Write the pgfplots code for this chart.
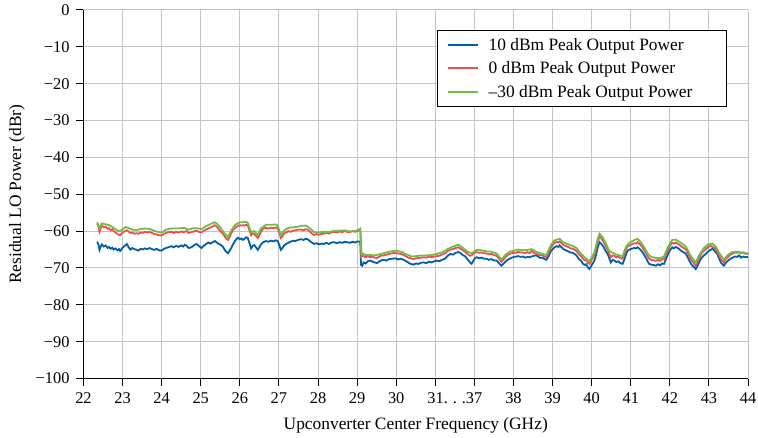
\documentclass[border=0pt]{standalone}
\usepackage{fontspec}
\setmainfont{Liberation Serif}
\usepackage{pgfplots}
\usepackage{pgfplotstable}
\pgfplotsset{compat=1.18}
\definecolor{cblue}{HTML}{005EAA}
\definecolor{cred}{HTML}{F04E4E}
\definecolor{cgreen}{HTML}{6EBE46}
\definecolor{cgrid}{HTML}{C4C4C4}
% x is the position on the broken axis: 22..30 -> 0..8, 31 -> 9, 37 -> 10, 38..44 -> 11..17
\pgfplotstableread{
x y
0.35 -62.9
0.38 -63.5
0.41 -65.1
0.45 -64.0
0.47 -63.6
0.52 -64.2
0.57 -63.9
0.62 -64.6
0.65 -64.3
0.70 -64.8
0.74 -64.5
0.77 -65.0
0.82 -64.7
0.87 -65.2
0.91 -64.9
0.94 -65.4
0.98 -64.8
1.03 -64.2
1.08 -63.8
1.11 -63.5
1.15 -64.3
1.20 -65.0
1.25 -64.6
1.30 -64.9
1.36 -65.1
1.41 -65.3
1.46 -64.8
1.52 -65.0
1.57 -64.7
1.63 -64.9
1.69 -64.6
1.75 -64.9
1.81 -65.1
1.87 -64.8
1.93 -65.2
2.00 -65.3
2.05 -64.9
2.11 -64.6
2.17 -64.4
2.25 -64.1
2.31 -64.4
2.37 -64.0
2.43 -64.3
2.50 -63.9
2.55 -64.2
2.59 -63.7
2.64 -64.0
2.69 -64.6
2.76 -64.4
2.82 -63.9
2.89 -63.5
2.95 -64.0
3.02 -64.6
3.07 -64.0
3.13 -63.6
3.19 -63.1
3.25 -63.4
3.31 -63.0
3.36 -62.7
3.42 -63.2
3.47 -63.5
3.52 -63.8
3.57 -64.3
3.62 -65.2
3.67 -65.8
3.70 -66.0
3.74 -65.3
3.78 -64.6
3.83 -63.5
3.88 -62.6
3.95 -61.8
4.00 -62.2
4.04 -62.0
4.08 -62.4
4.12 -62.1
4.16 -61.7
4.20 -61.8
4.24 -63.0
4.29 -64.7
4.33 -64.0
4.37 -63.8
4.42 -64.5
4.46 -65.1
4.50 -64.4
4.54 -63.6
4.60 -63.0
4.67 -62.7
4.73 -62.9
4.80 -62.6
4.86 -62.8
4.92 -62.5
4.97 -62.7
5.01 -63.8
5.05 -65.1
5.09 -64.6
5.14 -63.8
5.20 -63.4
5.25 -63.1
5.30 -62.9
5.36 -62.6
5.42 -62.7
5.49 -62.4
5.56 -62.2
5.63 -62.4
5.68 -62.1
5.73 -62.2
5.77 -62.5
5.81 -62.9
5.86 -63.2
5.90 -63.5
5.96 -63.3
6.02 -63.6
6.08 -63.4
6.15 -63.5
6.21 -63.2
6.28 -63.5
6.34 -63.1
6.41 -63.0
6.48 -63.3
6.55 -63.0
6.62 -63.2
6.68 -62.9
6.74 -63.0
6.81 -63.2
6.88 -62.9
6.95 -63.1
7.02 -62.8
7.08 -62.9
7.10 -69.2
7.13 -69.4
7.17 -68.5
7.22 -68.8
7.27 -68.2
7.34 -68.0
7.39 -68.3
7.45 -68.5
7.51 -68.7
7.57 -68.2
7.63 -67.9
7.68 -67.8
7.75 -68.0
7.82 -67.6
7.90 -67.5
7.98 -67.4
8.05 -67.7
8.12 -67.5
8.19 -67.8
8.26 -68.2
8.33 -68.7
8.40 -69.0
8.44 -69.1
8.50 -68.8
8.57 -68.9
8.63 -68.6
8.70 -68.5
8.77 -68.7
8.84 -68.3
8.91 -68.5
8.97 -68.2
9.04 -68.0
9.10 -68.2
9.17 -67.8
9.25 -67.5
9.31 -66.8
9.38 -66.2
9.45 -66.4
9.52 -65.9
9.59 -65.7
9.65 -66.0
9.70 -66.5
9.76 -66.8
9.82 -67.6
9.88 -68.4
9.93 -68.9
9.98 -67.9
10.02 -67.3
10.06 -67.1
10.12 -67.4
10.18 -67.2
10.25 -67.5
10.31 -67.5
10.37 -67.8
10.44 -67.6
10.50 -68.0
10.57 -68.0
10.62 -68.6
10.66 -69.1
10.69 -69.4
10.74 -68.9
10.80 -68.2
10.85 -67.8
10.90 -67.5
10.96 -67.2
11.02 -67.0
11.07 -66.9
11.12 -66.8
11.18 -67.0
11.24 -66.9
11.30 -67.2
11.36 -67.0
11.41 -67.1
11.46 -66.9
11.52 -66.7
11.58 -66.6
11.63 -66.9
11.68 -67.3
11.74 -67.2
11.79 -67.6
11.84 -67.8
11.90 -66.8
11.95 -65.6
12.00 -64.9
12.05 -64.4
12.10 -64.1
12.15 -64.3
12.18 -63.9
12.23 -64.4
12.28 -64.9
12.35 -65.3
12.40 -65.5
12.45 -65.8
12.51 -65.9
12.56 -66.2
12.61 -66.6
12.66 -67.4
12.70 -67.9
12.73 -68.0
12.77 -68.8
12.82 -69.2
12.86 -69.0
12.90 -69.8
12.94 -70.3
12.98 -69.6
13.03 -68.7
13.07 -68.0
13.11 -66.5
13.15 -64.6
13.20 -63.0
13.24 -63.4
13.28 -63.9
13.33 -64.8
13.37 -65.6
13.41 -66.2
13.45 -67.4
13.49 -68.5
13.54 -67.8
13.58 -68.0
13.63 -68.4
13.68 -68.2
13.73 -68.7
13.79 -68.9
13.84 -67.6
13.88 -66.2
13.92 -65.3
13.97 -65.0
14.02 -64.8
14.08 -64.6
14.13 -64.7
14.17 -64.4
14.22 -64.8
14.26 -65.2
14.30 -65.7
14.35 -66.6
14.40 -67.5
14.44 -68.4
14.47 -68.9
14.52 -69.1
14.58 -69.2
14.64 -69.4
14.70 -69.0
14.75 -69.3
14.80 -68.8
14.85 -68.9
14.90 -67.6
14.95 -66.3
15.00 -65.2
15.06 -64.4
15.10 -64.7
15.15 -64.3
15.20 -64.6
15.23 -64.8
15.28 -65.3
15.33 -65.6
15.37 -65.9
15.41 -66.2
15.46 -67.2
15.51 -68.3
15.56 -69.2
15.62 -69.8
15.66 -70.3
15.70 -69.6
15.75 -68.4
15.80 -67.4
15.87 -66.6
15.92 -66.2
15.98 -65.5
16.04 -65.1
16.09 -64.8
16.14 -65.3
16.18 -65.8
16.21 -66.2
16.26 -67.4
16.31 -68.6
16.36 -69.2
16.38 -69.4
16.43 -68.6
16.49 -68.0
16.55 -67.5
16.61 -67.2
16.66 -66.9
16.72 -67.0
16.77 -66.6
16.82 -67.2
16.88 -66.9
16.94 -67.1
17.00 -67.0
}\tenDBm
\pgfplotstableread{
x y
0.35 -58.0
0.38 -58.6
0.41 -60.2
0.45 -59.0
0.47 -58.5
0.52 -59.0
0.57 -58.8
0.62 -59.4
0.65 -59.2
0.70 -59.8
0.74 -59.5
0.77 -60.0
0.82 -60.4
0.87 -60.8
0.91 -61.0
0.94 -61.1
0.98 -60.6
1.03 -60.2
1.08 -59.9
1.11 -59.8
1.15 -60.1
1.20 -60.5
1.25 -60.4
1.30 -60.7
1.36 -60.6
1.41 -60.7
1.46 -60.4
1.52 -60.5
1.57 -60.2
1.63 -60.4
1.69 -60.2
1.75 -60.5
1.81 -60.8
1.87 -60.9
1.93 -61.1
2.00 -61.2
2.05 -60.8
2.11 -60.5
2.17 -60.3
2.25 -60.2
2.31 -60.5
2.37 -60.2
2.43 -60.4
2.50 -60.1
2.55 -60.3
2.59 -60.2
2.64 -60.0
2.69 -60.5
2.76 -60.3
2.82 -60.1
2.89 -59.9
2.95 -60.2
3.02 -60.4
3.07 -60.0
3.13 -59.6
3.19 -59.3
3.25 -59.0
3.31 -58.7
3.36 -58.4
3.42 -58.9
3.47 -59.6
3.52 -60.2
3.57 -60.8
3.62 -61.6
3.67 -62.2
3.70 -62.4
3.74 -61.6
3.78 -60.6
3.83 -59.6
3.88 -59.1
3.95 -58.6
4.00 -58.4
4.04 -58.5
4.08 -58.4
4.12 -58.5
4.16 -58.3
4.20 -58.4
4.24 -59.6
4.29 -61.1
4.33 -60.6
4.37 -60.8
4.42 -61.4
4.46 -61.9
4.50 -61.2
4.54 -60.2
4.60 -59.3
4.67 -59.1
4.73 -59.3
4.80 -59.1
4.86 -59.2
4.92 -59.0
4.97 -59.3
5.01 -60.4
5.05 -61.9
5.09 -61.4
5.14 -60.6
5.20 -60.3
5.25 -60.0
5.30 -60.2
5.36 -59.9
5.42 -59.8
5.49 -59.6
5.56 -59.6
5.63 -59.8
5.68 -59.5
5.73 -59.6
5.77 -59.9
5.81 -60.3
5.86 -60.8
5.90 -61.1
5.96 -60.8
6.02 -61.0
6.08 -60.8
6.15 -60.7
6.21 -60.5
6.28 -60.7
6.34 -60.4
6.41 -60.2
6.48 -60.4
6.55 -60.1
6.62 -60.3
6.68 -60.0
6.74 -60.2
6.81 -60.3
6.88 -60.0
6.95 -60.2
7.02 -59.9
7.08 -59.4
7.11 -66.9
7.13 -66.6
7.17 -66.9
7.22 -67.1
7.27 -66.8
7.34 -67.1
7.39 -66.9
7.45 -67.2
7.51 -67.3
7.57 -66.9
7.63 -66.6
7.68 -66.6
7.75 -66.4
7.82 -66.2
7.90 -66.0
7.98 -65.9
8.05 -66.1
8.12 -66.2
8.19 -66.5
8.26 -66.9
8.33 -67.3
8.40 -67.5
8.44 -67.6
8.50 -67.4
8.57 -67.3
8.63 -67.2
8.70 -67.1
8.77 -67.2
8.84 -66.9
8.91 -67.1
8.97 -66.9
9.04 -66.8
9.10 -66.7
9.17 -66.4
9.25 -66.0
9.31 -65.5
9.38 -65.0
9.45 -64.9
9.52 -64.6
9.59 -64.4
9.65 -64.8
9.70 -65.2
9.76 -65.6
9.82 -66.2
9.88 -66.7
9.93 -66.6
9.98 -66.0
10.02 -65.8
10.06 -65.7
10.12 -65.9
10.18 -65.8
10.25 -66.0
10.31 -66.1
10.37 -66.3
10.44 -66.2
10.50 -66.5
10.57 -66.7
10.62 -67.3
10.66 -67.9
10.69 -68.3
10.74 -67.7
10.80 -67.0
10.85 -66.5
10.90 -66.2
10.96 -66.0
11.02 -65.9
11.07 -65.9
11.12 -65.6
11.18 -65.8
11.24 -65.8
11.30 -66.0
11.36 -65.7
11.41 -66.0
11.46 -65.4
11.52 -65.9
11.58 -66.2
11.63 -66.4
11.68 -66.6
11.74 -66.5
11.79 -66.9
11.84 -67.1
11.90 -65.9
11.95 -64.6
12.00 -63.8
12.05 -63.2
12.10 -62.9
12.15 -63.1
12.18 -62.8
12.23 -63.3
12.28 -63.8
12.35 -64.1
12.40 -64.3
12.45 -64.6
12.51 -64.8
12.56 -65.0
12.61 -65.4
12.66 -66.1
12.70 -66.6
12.73 -66.8
12.77 -67.4
12.82 -67.9
12.86 -67.7
12.90 -68.6
12.94 -68.9
12.98 -68.2
13.03 -67.2
13.07 -66.5
13.11 -64.9
13.15 -63.0
13.20 -61.5
13.24 -61.9
13.28 -62.5
13.33 -63.4
13.37 -64.3
13.41 -65.0
13.45 -66.2
13.49 -67.1
13.54 -66.6
13.58 -66.7
13.63 -67.1
13.68 -66.9
13.73 -67.3
13.79 -67.5
13.84 -66.2
13.88 -64.9
13.92 -64.1
13.97 -63.9
14.02 -63.6
14.08 -63.3
14.13 -63.4
14.17 -63.0
14.22 -63.4
14.26 -63.9
14.30 -64.4
14.35 -65.3
14.40 -66.2
14.44 -67.0
14.47 -67.5
14.52 -67.8
14.58 -67.9
14.64 -68.1
14.70 -67.8
14.75 -68.1
14.80 -67.6
14.85 -67.7
14.90 -66.4
14.95 -65.1
15.00 -64.0
15.06 -63.2
15.10 -63.4
15.15 -63.1
15.20 -63.4
15.23 -63.6
15.28 -64.1
15.33 -64.4
15.37 -64.7
15.41 -65.0
15.46 -66.0
15.51 -67.1
15.56 -68.0
15.62 -68.8
15.66 -69.4
15.70 -68.7
15.75 -67.3
15.80 -66.2
15.87 -65.3
15.92 -64.9
15.98 -64.3
16.04 -64.0
16.09 -64.3
16.14 -64.5
16.18 -65.0
16.21 -65.6
16.26 -66.6
16.31 -67.7
16.36 -68.2
16.38 -68.5
16.43 -67.6
16.49 -67.0
16.55 -66.4
16.61 -66.1
16.66 -65.8
16.72 -65.9
16.77 -65.7
16.82 -66.0
16.88 -65.8
16.94 -66.2
17.00 -66.1
}\zeroDBm
\pgfplotstableread{
x y
0.35 -57.6
0.41 -59.2
0.47 -57.9
0.57 -58.2
0.65 -58.3
0.74 -58.9
0.82 -59.5
0.91 -60.1
0.98 -59.7
1.08 -58.9
1.15 -59.2
1.25 -59.6
1.36 -59.7
1.46 -59.5
1.57 -59.3
1.69 -59.4
1.81 -59.9
1.93 -60.3
2.00 -60.4
2.11 -59.6
2.25 -59.3
2.37 -59.3
2.50 -59.2
2.59 -59.2
2.69 -59.6
2.82 -59.2
2.95 -59.3
3.02 -59.5
3.13 -58.7
3.25 -58.1
3.36 -57.6
3.42 -58.0
3.52 -59.3
3.62 -60.8
3.70 -61.6
3.78 -59.8
3.88 -58.3
4.00 -57.6
4.08 -57.6
4.16 -57.5
4.20 -57.7
4.29 -60.3
4.37 -60.0
4.46 -61.1
4.54 -59.3
4.67 -58.3
4.80 -58.3
4.92 -58.2
4.97 -58.5
5.05 -61.1
5.14 -59.8
5.25 -59.1
5.36 -59.0
5.49 -58.8
5.56 -58.6
5.68 -58.5
5.73 -58.7
5.81 -59.4
5.90 -60.3
6.02 -60.4
6.15 -60.2
6.28 -60.3
6.41 -59.9
6.55 -59.9
6.68 -59.8
6.81 -60.1
6.95 -60.0
7.08 -59.4
7.11 -66.4
7.13 -66.0
7.22 -66.5
7.34 -66.5
7.45 -66.6
7.57 -66.3
7.68 -66.0
7.82 -65.6
7.98 -65.3
8.12 -65.6
8.26 -66.3
8.40 -66.9
8.50 -66.8
8.63 -66.6
8.77 -66.6
8.91 -66.5
9.04 -66.2
9.17 -65.8
9.31 -64.9
9.45 -64.2
9.59 -63.7
9.70 -64.5
9.82 -65.6
9.93 -66.0
10.06 -65.1
10.18 -65.2
10.31 -65.5
10.44 -65.6
10.57 -66.1
10.69 -67.7
10.80 -66.4
10.90 -65.6
11.02 -65.3
11.12 -65.0
11.24 -65.2
11.36 -65.1
11.46 -64.9
11.58 -65.6
11.68 -66.0
11.84 -66.5
11.95 -63.9
12.05 -62.5
12.18 -62.1
12.28 -63.1
12.40 -63.6
12.51 -64.0
12.61 -64.6
12.70 -65.8
12.82 -67.1
12.94 -68.2
13.07 -65.8
13.15 -62.2
13.20 -60.7
13.28 -61.7
13.37 -63.5
13.45 -65.4
13.54 -65.9
13.63 -66.4
13.79 -66.8
13.88 -64.2
13.97 -63.1
14.08 -62.5
14.17 -62.1
14.26 -63.1
14.35 -64.5
14.44 -66.2
14.52 -67.0
14.64 -67.3
14.75 -67.3
14.85 -66.9
14.95 -64.3
15.06 -62.4
15.15 -62.3
15.23 -62.8
15.33 -63.6
15.41 -64.2
15.51 -66.3
15.62 -68.0
15.66 -68.6
15.75 -66.5
15.87 -64.6
15.98 -63.6
16.09 -63.4
16.18 -64.3
16.26 -65.9
16.38 -67.8
16.49 -66.4
16.61 -65.6
16.72 -65.6
16.82 -65.8
16.94 -66.0
17.00 -66.0
}\minusThirtyDBm
\begin{document}
\begin{tikzpicture}
\begin{axis}[
  scale only axis,
  width=669pt, height=371pt,
  xmin=0, xmax=17, ymin=-100, ymax=0,
  axis line style={draw=none},
  xtick pos=left, ytick pos=left,
  xtick={0,1,...,17},
  xticklabels={22,23,24,25,26,27,28,29,30,{\hspace*{39.35pt}31.\hspace{0.3em}.\hspace{0.3em}.37},{},38,39,40,41,42,43,44},
  ytick={-100,-90,...,0},
  yticklabels={−100,−90,−80,−70,−60,−50,−40,−30,−20,−10,0},
  tick align=outside,
  major tick length=7.5pt,
  tick style={line width=1pt, black},
  xticklabel style={yshift=-3pt},
  yticklabel style={xshift=-3pt},
  grid=major,
  major grid style={cgrid, line width=1pt},
  tick label style={font=\fontsize{16.5}{19}\selectfont},
  xlabel={Upconverter Center Frequency (GHz)},
  ylabel={Residual LO Power (dBr)},
  ylabel style={font=\fontsize{17.5}{20}\selectfont},
  ylabel shift=4pt,
  xlabel style={at={(rel axis cs:0.5,0)}, anchor=base, yshift=-51pt, font=\fontsize{17.5}{20}\selectfont},
  legend style={font=\fontsize{17.5}{20}\selectfont, at={(rel axis cs:1,1)}, xshift=-21.6pt, yshift=-20pt, anchor=north east, draw=black, line width=0.8pt, inner xsep=10pt, inner ysep=6pt, row sep=6pt, column sep=8pt},
  legend cell align=left,
  legend image code/.code={\draw[#1, line width=2pt] (0pt,0pt) -- (30pt,0pt);},
]
\coordinate (ll) at (rel axis cs:0,0);
\coordinate (ur) at (rel axis cs:1,1);
\addplot[cblue, line width=1.8pt] table[x=x,y=y] {\tenDBm};
\addlegendentry{10 dBm Peak Output Power}
\addplot[cred, line width=1.8pt] table[x=x,y=y] {\zeroDBm};
\addlegendentry{0 dBm Peak Output Power}
\addplot[cgreen, line width=1.8pt] table[x=x,y=y] {\minusThirtyDBm};
\addlegendentry{–30 dBm Peak Output Power\hspace*{22pt}}
\end{axis}
\draw[black, line width=1.1pt] (ll |- ur) -- (ll) -- (ur |- ll);
\foreach \i in {0,...,17} \draw[black, line width=1pt] ([xshift=\i*39.3529pt]ll) -- ++(0,-7.5pt);
\foreach \j in {0,...,10} \draw[black, line width=1pt] ([yshift=\j*37.1pt]ll) -- ++(-8pt,0);
\pgfresetboundingbox
\path[use as bounding box] ([xshift=-84pt,yshift=-59pt]ll) rectangle ([xshift=10pt,yshift=10pt]ur);
\end{tikzpicture}
\end{document}
